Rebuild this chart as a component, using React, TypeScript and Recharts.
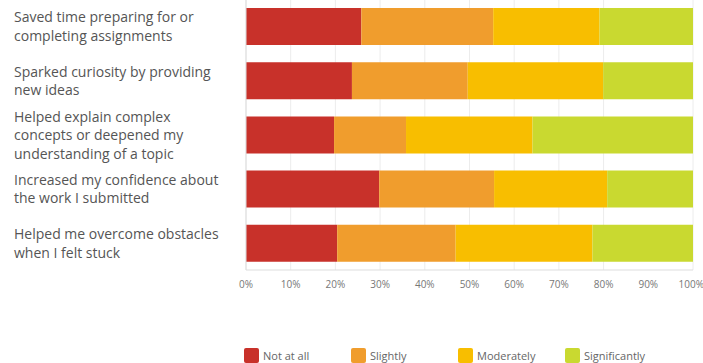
import { BarChart, Bar, XAxis, YAxis, CartesianGrid, Legend } from 'recharts';

const categories = [
  'Saved time preparing for or completing assignments',
  'Sparked curiosity by providing new ideas',
  'Helped explain complex concepts or deepened my understanding of a topic',
  'Increased my confidence about the work I submitted',
  'Helped me overcome obstacles when I felt stuck',
];

const notAtAll = [25.8, 23.7, 19.7, 29.8, 20.4];
const slightly = [29.5, 25.9, 16.1, 25.7, 26.5];
const moderately = [23.8, 30.3, 28.3, 25.3, 30.6];
const significantly = [20.9, 20.1, 35.9, 19.2, 22.5];

const xTicks = [0, 10, 20, 30, 40, 50, 60, 70, 80, 90, 100];

const SERIES = [
  { key: 'notAtAll', name: 'Not at all', color: '#C8312A' },
  { key: 'slightly', name: 'Slightly', color: '#F09D2D' },
  { key: 'moderately', name: 'Moderately', color: '#F8BE00' },
  { key: 'significantly', name: 'Significantly', color: '#C9D930' },
];

const FONT = '"Open Sans", sans-serif';

const data = categories.map((name, i) => ({
  name,
  notAtAll: notAtAll[i],
  slightly: slightly[i],
  moderately: moderately[i],
  significantly: significantly[i],
}));

function wrap(text: string, max: number) {
  const lines: string[] = [];
  let cur = '';
  text.split(' ').forEach(w => {
    const next = cur ? cur + ' ' + w : w;
    if (next.length > max && cur) {
      lines.push(cur);
      cur = w;
    } else cur = next;
  });
  if (cur) lines.push(cur);
  return lines;
}

function CategoryTick({ y, payload }: any) {
  const lines = wrap(payload.value, 30);
  const lh = 18.5;
  const start = y - ((lines.length - 1) * lh) / 2 - 0.5;
  return (
    <text x={14} y={start} textAnchor="start" fill="#555" fontSize={14} fontFamily={FONT} dominantBaseline="central">
      {lines.map((l, i) => (
        <tspan key={i} x={14} y={start + i * lh}>{l}</tspan>
      ))}
    </text>
  );
}

function LegendContent() {
  return (
    <div style={{ display: 'flex', paddingLeft: 244, fontFamily: FONT, fontSize: 11, color: '#666' }}>
      {SERIES.map(s => (
        <div key={s.key} style={{ width: 107, display: 'flex', alignItems: 'center' }}>
          <span style={{ width: 15, height: 15, borderRadius: 2, background: s.color, display: 'inline-block', marginRight: 4 }} />
          <span>{s.name}</span>
        </div>
      ))}
    </div>
  );
}

export default function App() {
  return (
    <div style={{ position: 'absolute', left: 0, top: 0, width: 703, height: 363, background: '#fff' }}>
      <BarChart
        width={703}
        height={363}
        data={data}
        layout="vertical"
        margin={{ top: -1, right: 10, bottom: 0, left: 0 }}
        barSize={37}
      >
        <CartesianGrid horizontal={false} stroke="#ececec" />
        <XAxis
          type="number"
          domain={[0, 100]}
          ticks={xTicks}
          tickFormatter={(v: number) => `${v}%`}
          tickLine={false}
          axisLine={{ stroke: '#ddd' }}
          tick={{ fill: '#777', fontSize: 10, fontFamily: FONT }}
          tickMargin={5}
          height={78}
        />
        <YAxis
          type="category"
          dataKey="name"
          width={246}
          tickLine={false}
          axisLine={{ stroke: '#ddd' }}
          tick={<CategoryTick />}
        />
        <Legend
          content={<LegendContent />}
          wrapperStyle={{ position: 'absolute', left: 0, top: 348, width: 703 }}
        />
        {SERIES.map(s => (
          <Bar key={s.key} dataKey={s.key} name={s.name} stackId="a" fill={s.color} isAnimationActive={false} />
        ))}
      </BarChart>
    </div>
  );
}
